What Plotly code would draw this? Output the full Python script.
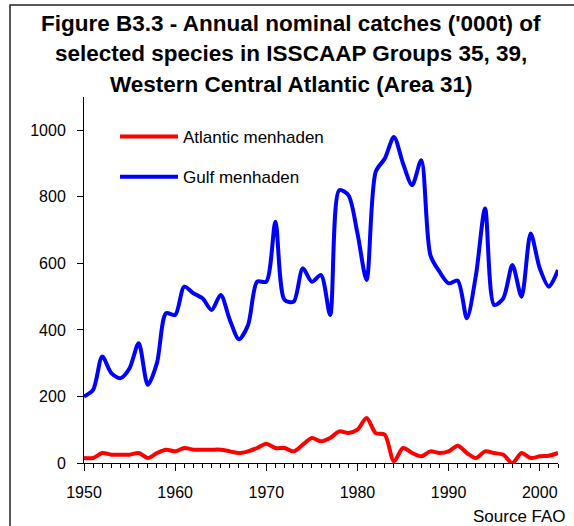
import plotly.graph_objects as go

years = list(range(1950, 2003))

gulf_menhaden = [200, 220, 320, 270, 255, 285, 360, 235, 300, 450,
                 445, 530, 510, 495, 460, 505, 430, 372, 415, 545,
                 545, 725, 490, 485, 585, 545, 565, 445, 820, 805,
                 690, 550, 875, 915, 980, 900, 835, 910, 625, 575,
                 540, 548, 435, 565, 765, 475, 495, 595, 500, 690,
                 585, 530, 580]

atlantic_menhaden = [15, 15, 30, 25, 25, 25, 30, 15, 30, 40,
                     35, 45, 40, 40, 40, 40, 35, 30, 35, 45,
                     58, 45, 45, 35, 55, 75, 65, 75, 95, 90,
                     100, 135, 90, 85, 5, 45, 30, 20, 35, 30,
                     35, 52, 30, 15, 35, 30, 25, 0, 30, 15,
                     20, 22, 30]

x_ticks = [1950, 1960, 1970, 1980, 1990, 2000]
y_ticks = [0, 200, 400, 600, 800, 1000]

title_lines = ["Figure B3.3 - Annual nominal catches ('000t) of",
               "selected species in ISSCAAP Groups 35, 39,",
               "Western Central Atlantic (Area 31)"]

FONT = "Liberation Sans, Arial, sans-serif"

fig = go.Figure()
fig.add_trace(go.Scatter(x=years, y=atlantic_menhaden, mode="lines",
                         name="Atlantic menhaden", legendgroup="a",
                         line=dict(color="#FF0000", width=4, shape="spline", smoothing=0.8)))
fig.add_trace(go.Scatter(x=years, y=gulf_menhaden, mode="lines",
                         name="Gulf menhaden", legendgroup="g",
                         line=dict(color="#0000FF", width=4, shape="spline", smoothing=0.8)))

L, R, T, B = 84, 16, 97, 63
W, H = 574, 526
pw, ph = W - L - R, H - T - B

def px(xp):
    return (xp - L) / pw

def py(yp):
    return (H - B - yp) / ph

annotations = []
for i, (line, yc) in enumerate(zip(title_lines, [23, 54, 85])):
    annotations.append(dict(text="<b>%s</b>" % line, x=px(291), y=py(yc), xref="paper", yref="paper",
                            xanchor="center", yanchor="middle", showarrow=False,
                            font=dict(family=FONT, size=22.5, color="black")))
annotations.append(dict(text="Source FAO", x=px(568), y=py(516), xref="paper", yref="paper",
                        xanchor="right", yanchor="middle", showarrow=False,
                        font=dict(family=FONT, size=17, color="black")))

shapes = [
    dict(type="rect", xref="paper", yref="paper", x0=px(10), x1=px(640), y0=py(5), y1=py(600),
         line=dict(color="#222222", width=1.5), fillcolor="rgba(0,0,0,0)", layer="above"),
]

fig.update_layout(
    width=W, height=H,
    margin=dict(l=L, r=R, t=T, b=B, pad=0),
    paper_bgcolor="white", plot_bgcolor="white",
    font=dict(family=FONT, size=16, color="black"),
    showlegend=True,
    legend=dict(x=px(115), y=py(119), xanchor="left", yanchor="top",
                bgcolor="rgba(0,0,0,0)", font=dict(family=FONT, size=17, color="black"),
                traceorder="grouped", tracegroupgap=15, itemwidth=58),
    annotations=annotations,
    shapes=shapes,
)
fig.update_xaxes(range=[1950, 2002], tickvals=x_ticks, ticks="outside", ticklen=7,
                 tickcolor="black", showline=True, linecolor="black", linewidth=1,
                 showgrid=False, zeroline=False, ticklabelstandoff=8,
                 tickfont=dict(family=FONT, size=16, color="black"),
                 minor=dict(dtick=1, ticks="outside", ticklen=4, tickcolor="black", showgrid=False))
fig.update_yaxes(range=[0, 1100], tickvals=y_ticks, ticks="outside", ticklen=6,
                 tickcolor="black", showline=True, linecolor="black", linewidth=1,
                 showgrid=False, zeroline=False, ticklabelstandoff=8,
                 tickfont=dict(family=FONT, size=16, color="black"))

fig.write_html("out.html", config={"displayModeBar": False},
               post_script="document.body.style.margin='0';")
